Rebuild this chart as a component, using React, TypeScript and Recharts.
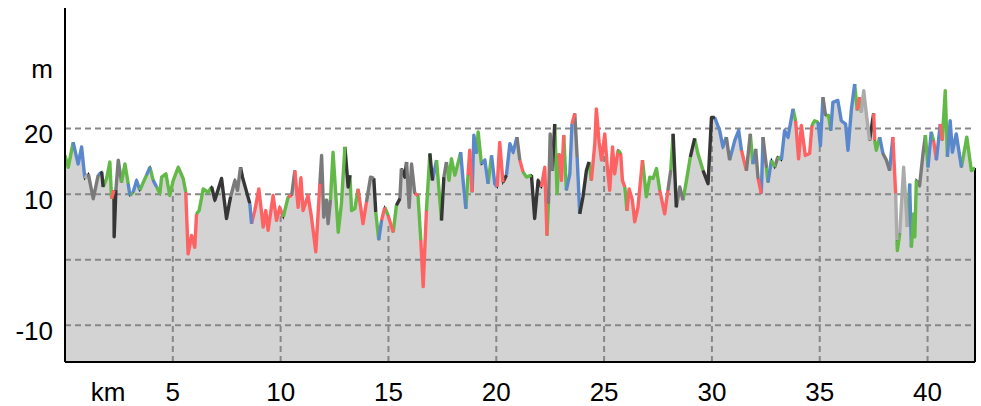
import React from 'react';
import { ComposedChart, Area, Line, XAxis, YAxis, ReferenceLine } from 'recharts';

// distance along the route (km)
const distanceKm = [
  0.00, 0.15, 0.38, 0.61, 0.77, 0.92, 1.08, 1.31, 1.54, 1.70,
  1.77, 1.93, 2.08, 2.16, 2.27, 2.28, 2.36, 2.47, 2.62, 2.78,
  2.93, 3.01, 3.16, 3.32, 3.47, 3.63, 3.78, 3.94, 4.09, 4.25,
  4.40, 4.48, 4.68, 4.86, 5.02, 5.25, 5.48, 5.60, 5.71, 5.87,
  6.02, 6.10, 6.22, 6.41, 6.64, 6.80, 6.95, 7.26, 7.49, 7.68,
  7.88, 8.00, 8.14, 8.23, 8.57, 8.65, 8.80, 8.99, 9.19, 9.31,
  9.42, 9.65, 9.81, 9.96, 10.12, 10.35, 10.51, 10.66, 10.81, 10.94,
  11.04, 11.27, 11.43, 11.63, 11.82, 11.90, 12.00, 12.13, 12.20, 12.31,
  12.43, 12.67, 12.82, 12.98, 13.13, 13.21, 13.29, 13.44, 13.59, 13.82,
  13.98, 14.17, 14.32, 14.41, 14.55, 14.68, 14.83, 14.98, 15.22, 15.37,
  15.53, 15.60, 15.76, 15.84, 15.96, 16.07, 16.22, 16.37, 16.50, 16.61,
  16.76, 16.92, 17.04, 17.23, 17.46, 17.57, 17.69, 17.81, 17.92, 18.08,
  18.20, 18.35, 18.46, 18.59, 18.69, 18.77, 18.88, 18.96, 19.08, 19.16,
  19.31, 19.47, 19.62, 19.78, 19.93, 20.04, 20.16, 20.31, 20.47, 20.63,
  20.78, 20.96, 21.09, 21.24, 21.40, 21.63, 21.78, 21.94, 22.09, 22.25,
  22.35, 22.42, 22.50, 22.60, 22.71, 22.82, 22.91, 23.02, 23.13, 23.25,
  23.41, 23.51, 23.64, 23.75, 23.87, 24.02, 24.18, 24.30, 24.41, 24.57,
  24.64, 24.77, 24.88, 25.03, 25.15, 25.26, 25.39, 25.49, 25.65, 25.77,
  25.85, 25.96, 26.06, 26.16, 26.31, 26.42, 26.57, 26.78, 26.96, 27.12,
  27.27, 27.43, 27.58, 27.81, 27.96, 28.09, 28.20, 28.35, 28.51, 28.66,
  28.82, 29.00, 29.20, 29.35, 29.59, 29.82, 29.98, 30.13, 30.36, 30.51,
  30.67, 30.82, 31.06, 31.24, 31.37, 31.60, 31.78, 31.90, 32.03, 32.14,
  32.29, 32.37, 32.53, 32.60, 32.76, 32.91, 33.06, 33.22, 33.37, 33.53,
  33.76, 33.88, 34.02, 34.15, 34.33, 34.53, 34.64, 34.76, 34.92, 35.03,
  35.15, 35.27, 35.41, 35.51, 35.61, 35.84, 36.00, 36.20, 36.31, 36.47,
  36.62, 36.74, 36.85, 36.93, 37.04, 37.16, 37.31, 37.50, 37.55, 37.62,
  37.78, 37.93, 38.09, 38.24, 38.39, 38.52, 38.58, 38.60, 38.71, 38.89,
  39.06, 39.17, 39.25, 39.35, 39.41, 39.48, 39.63, 39.79, 39.90, 40.02,
  40.17, 40.28, 40.41, 40.59, 40.68, 40.82, 40.92, 41.05, 41.15, 41.33,
  41.57, 41.82, 42.03, 42.20,
];

// elevation (m)
const elevationM = [
  15.9, 14.1, 17.9, 14.6, 17.2, 12.4, 13.1, 9.3, 12.9, 13.4,
  11.1, 12.4, 14.9, 9.3, 10.6, 3.5, 10.6, 15.2, 11.8, 14.6,
  11.6, 9.8, 10.3, 12.1, 10.6, 11.8, 12.9, 14.1, 12.1, 11.1,
  10.1, 12.6, 13.1, 9.8, 12.1, 14.1, 12.4, 10.3, 0.9, 3.7,
  1.9, 7.0, 7.5, 10.8, 10.3, 11.1, 9.1, 12.4, 6.3, 9.6,
  12.1, 10.6, 14.1, 12.6, 8.6, 5.5, 7.5, 10.8, 5.0, 7.5,
  4.5, 9.8, 6.0, 8.0, 6.5, 9.6, 9.8, 13.6, 8.0, 12.5,
  7.5, 9.8, 6.5, 1.2, 11.6, 15.9, 6.5, 9.1, 5.5, 9.1,
  16.4, 4.2, 8.6, 17.2, 11.1, 12.9, 7.5, 7.8, 10.8, 5.5,
  8.8, 12.6, 12.4, 7.3, 3.0, 6.0, 8.0, 6.8, 4.2, 8.3,
  9.3, 13.9, 12.6, 14.9, 8.0, 14.6, 10.1, 9.8, 3.0, -4.1,
  7.5, 16.2, 12.1, 15.2, 6.0, 12.6, 14.9, 12.1, 15.4, 12.9,
  14.4, 16.4, 12.1, 7.8, 12.9, 16.7, 10.3, 19.0, 16.2, 19.5,
  14.6, 15.2, 11.6, 15.9, 11.6, 11.1, 17.9, 11.8, 12.9, 17.7,
  16.4, 18.7, 15.2, 13.4, 12.6, 12.9, 6.3, 12.1, 11.1, 14.1,
  3.7, 8.6, 19.2, 13.6, 20.7, 10.1, 16.2, 12.1, 19.0, 10.6,
  13.1, 20.7, 22.3, 15.7, 7.0, 9.6, 13.6, 14.9, 12.1, 17.7,
  23.0, 17.9, 15.2, 19.2, 14.1, 10.6, 17.2, 13.1, 16.7, 16.2,
  12.1, 11.1, 7.5, 10.8, 9.1, 5.8, 8.0, 15.2, 9.6, 12.6,
  12.4, 13.9, 10.6, 7.0, 10.6, 13.6, 19.2, 8.0, 11.1, 9.1,
  12.1, 15.7, 18.5, 16.2, 13.6, 11.6, 21.7, 21.7, 19.7, 17.2,
  18.7, 15.2, 18.2, 19.7, 16.7, 13.6, 19.2, 14.6, 16.9, 12.4,
  10.1, 18.7, 14.1, 11.8, 15.2, 14.1, 15.7, 15.2, 19.7, 18.7,
  23.0, 21.2, 15.4, 20.5, 15.9, 16.2, 20.5, 21.2, 21.0, 17.4,
  24.8, 22.0, 22.0, 19.7, 24.0, 24.3, 21.2, 20.7, 16.7, 23.0,
  26.8, 22.8, 24.8, 22.5, 25.8, 22.3, 18.2, 22.3, 18.2, 16.7,
  18.7, 16.2, 15.2, 13.6, 18.7, 10.1, 3.0, 1.4, 4.0, 14.1,
  5.0, 11.6, 1.9, 7.0, 3.5, 12.1, 11.3, 16.2, 19.0, 14.1,
  19.5, 18.2, 15.2, 20.7, 18.2, 25.8, 15.7, 21.2, 16.4, 19.2,
  14.1, 18.7, 13.6, 14.0,
];

// colour class of the segment that ends at each point (first char unused)
const segmentColor =
  'GGGBBBLDDB' + 'KGGGRKKDDG' + 'GBGBBGGBGB' + 'GGGGGGGGRR' + 'RRGGGGKKKK' +
  'DDDKKBRRRR' + 'RRRRRGRDRR' + 'RRRRRDDDDD' + 'GGGGKKGGGR' + 'RDDKGBRGRG' +
  'KDKKDDDRGR' + 'RGKBGKDGGG' + 'GGBBGRRBBG' + 'GBBGBBRRKB' + 'BBDRGGKKKR' +
  'RGDDKGGRRG' + 'BBRDBKKKGR' + 'RRRRRRRRRG' + 'RRGRRRRRGG' + 'GGGRRDGKDD' +
  'GGKGGKKKBB' + 'BDBBBRDGBD' + 'RBDGBGDGBB' + 'BGRRRRRGGB' + 'BDGGBBBBBB' +
  'BGRGLLLKRG' + 'GBDDBRLGGL' + 'LGBGGGDDDG' + 'BGRBRGGBBB' + 'BGGG';

const palette: Record<string, string> = {
  G: '#63b947',
  R: '#ff6262',
  B: '#5b88cc',
  K: '#363636',
  D: '#7a7a7a',
  L: '#ababab',
};

const xTicks = [2, 5, 10, 15, 20, 25, 30, 35, 40];
const xTickLabels = ['km', '5', '10', '15', '20', '25', '30', '35', '40'];
const yTicks = [-10, 0, 10, 20, 30];
const yTickLabels = ['-10', '', '10', '20', 'm'];
const hGrid = [-10, 0, 10, 20];
const vGrid = [5, 10, 15, 20, 25, 30, 35, 40];
const xDomain: [number, number] = [0, 42.2];
const yDomain: [number, number] = [-15.6, 38.4];

const FONT = '"Liberation Sans", Arial, sans-serif';

// build table
const rows: any[] = distanceKm.map((km, i) => ({ km, elev: elevationM[i] }));
const seriesKeys: { key: string; color: string }[] = [];
{
  let runIdx = 0;
  let i = 1;
  while (i < distanceKm.length) {
    const c = segmentColor[i];
    let j = i;
    while (j + 1 < distanceKm.length && segmentColor[j + 1] === c) j++;
    const key = `${c}${runIdx % 3}`;
    if (!seriesKeys.find((s) => s.key === key)) seriesKeys.push({ key, color: palette[c] });
    for (let p = i - 1; p <= j; p++) rows[p][key] = elevationM[p];
    runIdx++;
    i = j + 1;
  }
}

function elevationAt(km: number): number {
  for (let i = 1; i < distanceKm.length; i++) {
    if (distanceKm[i] >= km) {
      const t = (km - distanceKm[i - 1]) / (distanceKm[i] - distanceKm[i - 1]);
      return elevationM[i - 1] + t * (elevationM[i] - elevationM[i - 1]);
    }
  }
  return elevationM[elevationM.length - 1];
}

const XTick = (props: any) => {
  const { x, y, payload } = props;
  const idx = xTicks.indexOf(payload.value);
  return (
    <text x={x} y={y} dy={39} textAnchor="middle" fontSize={26} fill="#000" fontFamily={FONT}>
      {xTickLabels[idx]}
    </text>
  );
};

const YTick = (props: any) => {
  const { x, y, payload } = props;
  const idx = yTicks.indexOf(payload.value);
  return (
    <text x={x - 12} y={y} dy={14.5} textAnchor="end" fontSize={26} fill="#000" fontFamily={FONT}>
      {yTickLabels[idx]}
    </text>
  );
};

const gridStroke = '#878787';
const gridDash = '6 4';

export default function App() {
  const lastKm = distanceKm[distanceKm.length - 1];
  const lastElev = elevationM[elevationM.length - 1];
  return (
    <div style={{ position: 'absolute', left: 0, top: 0, background: '#fff' }}>
      <ComposedChart
        width={981}
        height={406}
        data={rows}
        margin={{ top: 8, right: 6, bottom: 0, left: 0 }}
      >
        <XAxis
          dataKey="km"
          type="number"
          domain={xDomain}
          ticks={xTicks}
          allowDataOverflow
          height={44}
          tickLine={false}
          tickSize={0}
          tickMargin={0}
          axisLine={{ stroke: '#000', strokeWidth: 2 }}
          tick={<XTick />}
          interval={0}
        />
        <YAxis
          type="number"
          domain={yDomain}
          ticks={yTicks}
          allowDataOverflow
          width={65}
          tickLine={false}
          tickSize={0}
          tickMargin={0}
          axisLine={{ stroke: '#000', strokeWidth: 2 }}
          tick={<YTick />}
          interval={0}
        />
        <Area
          dataKey="elev"
          type="linear"
          baseValue="dataMin"
          fill="#d3d3d3"
          fillOpacity={1}
          stroke="#000"
          strokeWidth={1.5}
          isAnimationActive={false}
          dot={false}
          activeDot={false}
        />
        {hGrid.map((v) => (
          <ReferenceLine key={`h${v}`} y={v} stroke={gridStroke} strokeWidth={2} strokeDasharray={gridDash} />
        ))}
        {vGrid.map((v) => (
          <ReferenceLine
            key={`v${v}`}
            segment={[
              { x: v, y: yDomain[0] },
              { x: v, y: elevationAt(v) - 1 },
            ]}
            stroke={gridStroke}
            strokeWidth={2}
            strokeDasharray={gridDash}
          />
        ))}
        <ReferenceLine
          segment={[
            { x: lastKm, y: yDomain[0] },
            { x: lastKm, y: lastElev },
          ]}
          stroke="#000"
          strokeWidth={2}
        />
        {seriesKeys.map((s) => (
          <Line
            key={s.key}
            dataKey={s.key}
            type="linear"
            stroke={s.color}
            strokeWidth={3.4}
            strokeLinejoin="round"
            dot={false}
            activeDot={false}
            connectNulls={false}
            isAnimationActive={false}
          />
        ))}
      </ComposedChart>
    </div>
  );
}
